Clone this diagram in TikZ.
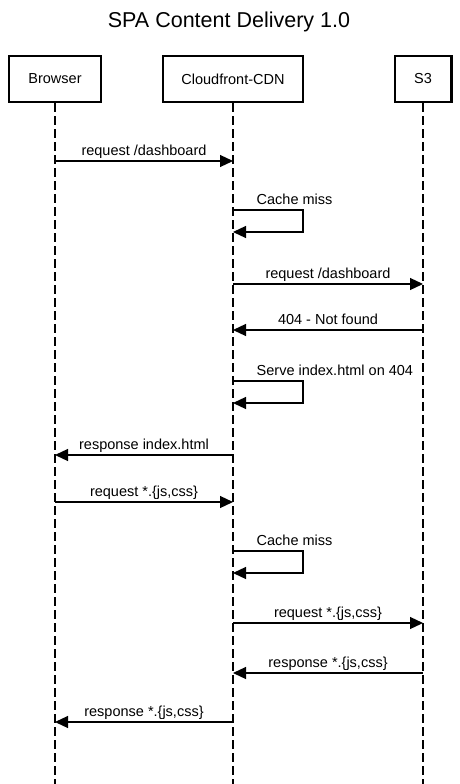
\documentclass[tikz,border=0pt]{standalone}
\usepackage{fontspec}
\setmainfont{Liberation Sans}
\usetikzlibrary{arrows.meta}
\tikzset{
  actor/.style={draw, line width=2.4pt, minimum height=45.6pt, font=\fontsize{14.5}{17}\selectfont},
  lifeline/.style={line width=1.2pt, dash pattern=on 9pt off 4pt},
  msg/.style={line width=1.2pt, -{Triangle[length=13pt,width=12pt]}},
  lbl/.style={anchor=base, yshift=6pt, font=\fontsize{14.5}{17}\selectfont},
  selflbl/.style={anchor=base west, inner sep=0pt, font=\fontsize{14.5}{17}\selectfont}
}
\begin{document}
\begin{tikzpicture}[x=1pt,y=-1pt]
  \useasboundingbox (0,0) rectangle (460,784);
  \node[anchor=base, font=\fontsize{21.5}{26}\selectfont] (title) at (229,27.5) {SPA Content Delivery 1.0};
  % participants
  \node[actor, minimum width=91.6pt] (browser) at (55,79) {Browser};
  \node[actor, minimum width=139.6pt] (cdn) at (233,79) {Cloudfront-CDN};
  \node[actor, minimum width=56.6pt] (s3) at (423,79) {S3};
  \coordinate (bottom) at (0,784);
  \foreach \n in {browser,cdn,s3}
    \draw[lifeline] (\n.south) -- (\n |- bottom);
  % message rows
  \foreach \m/\y in {m1/161,m2/210,m3/284,m4/330,m5/381,m6/455,m7/502,m8/551,m9/623,m10/673,m11/722}
    \coordinate (\m) at (0,\y);

  \draw[msg] (browser |- m1) -- node[lbl] {request /dashboard} (cdn |- m1);
  \draw[msg] (cdn |- m2) -- ++(70,0) -- ++(0,22) -- ++(-70,0);
  \node[selflbl] (miss1) at ([xshift=23.5pt,yshift=6pt]cdn |- m2) {Cache miss};
  \draw[msg] (cdn |- m3) -- node[lbl] {request /dashboard} (s3 |- m3);
  \draw[msg] (s3 |- m4) -- node[lbl] {404 - Not found} (cdn |- m4);
  \draw[msg] (cdn |- m5) -- ++(70,0) -- ++(0,22) -- ++(-70,0);
  \node[selflbl] (serve) at ([xshift=23.5pt,yshift=6pt]cdn |- m5) {Serve index.html on 404};
  \draw[msg] (cdn |- m6) -- node[lbl] {response index.html} (browser |- m6);
  \draw[msg] (browser |- m7) -- node[lbl] {request *.\{js,css\}} (cdn |- m7);
  \draw[msg] (cdn |- m8) -- ++(70,0) -- ++(0,22) -- ++(-70,0);
  \node[selflbl] (miss2) at ([xshift=23.5pt,yshift=6pt]cdn |- m8) {Cache miss};
  \draw[msg] (cdn |- m9) -- node[lbl] {request *.\{js,css\}} (s3 |- m9);
  \draw[msg] (s3 |- m10) -- node[lbl] {response *.\{js,css\}} (cdn |- m10);
  \draw[msg] (cdn |- m11) -- node[lbl] {response *.\{js,css\}} (browser |- m11);
\end{tikzpicture}
\end{document}
